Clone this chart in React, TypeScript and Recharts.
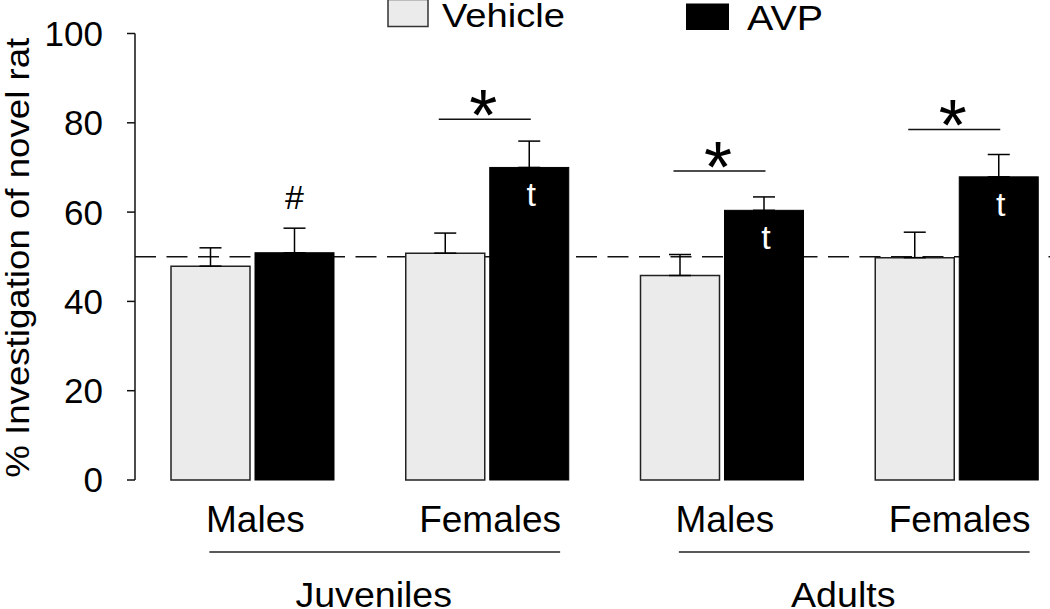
import React from "react";
import { BarChart, Bar, XAxis, YAxis, ErrorBar, ReferenceLine } from "recharts";

// groups along the x axis
const sexes = ["Males", "Females", "Males", "Females"];
const ages = ["Juveniles", "Juveniles", "Adults", "Adults"];

// % investigation of novel rat (mean, +SEM)
const vehicle = [47.9, 50.8, 45.8, 49.8];
const vehicleSem = [4.1, 4.5, 4.7, 5.7];
const avp = [50.9, 70.0, 60.4, 67.9];
const avpSem = [5.5, 5.9, 3.0, 5.0];

// annotations
const aboveMark = ["#", "", "", ""];
const insideMark = ["", "t", "t", "t"];
const sigLevel = [null, 80.8, 69.2, 78.5];

const yTicks = [0, 20, 40, 60, 80, 100];

const series = [
  { key: "vehicle", name: "Vehicle", fill: "#ebebeb" },
  { key: "avp", name: "AVP", fill: "#000000" },
];

const FONT = "'Liberation Sans', Arial, sans-serif";
const CHART_W = 1080;
const MARGIN = { top: 33.5, right: 6, left: 0, bottom: 0 };
const Y_W = 135;
const BAND = (CHART_W - MARGIN.left - MARGIN.right - Y_W) / sexes.length;

const rows = sexes.map((sex, i) => ({
  sex,
  age: ages[i],
  vehicle: vehicle[i],
  vehicleErr: [0, vehicleSem[i]],
  avp: avp[i],
  avpErr: [0, avpSem[i]],
}));

function SexTick({ x, y, payload, index }: any) {
  const age = ages[index];
  const first = index === 0 || ages[index - 1] !== age;
  return (
    <g fontFamily={FONT}>
      <text x={x + 3} y={y + 52} textAnchor="middle" fontSize={37} fill="#000">
        {payload.value}
      </text>
      {first && (
        <>
          <line x1={x - 43} x2={x + BAND + 73} y1={y + 72} y2={y + 72} stroke="#222" strokeWidth={1.5} />
          <text
            x={x + BAND / 2 + 4}
            y={y + 126.5}
            textAnchor="middle"
            fontSize={35}
            fill="#000"
            textLength={age.length * 17.4}
            lengthAdjust="spacingAndGlyphs"
          >
            {age}
          </text>
        </>
      )}
    </g>
  );
}

function YLabel({ viewBox }: any) {
  const cx = 28.5;
  const cy = (viewBox?.y ?? 33.5) + (viewBox?.height ?? 446.5) / 2 + 1;
  return (
    <text
      x={cx}
      y={cy}
      transform={`rotate(-90 ${cx} ${cy})`}
      textAnchor="middle"
      fontSize={33}
      fontFamily={FONT}
      fill="#000"
      textLength={440}
      lengthAdjust="spacingAndGlyphs"
    >
      % Investigation of novel rat
    </text>
  );
}

function AvpShape(p: any) {
  const { x, y, width, height, index, fill } = p;
  const k = height / avp[index];
  const base = y + height;
  const capY = base - (avp[index] + avpSem[index]) * k;
  const sig = sigLevel[index];
  const sigY = sig != null ? base - sig * k : 0;
  const x1 = x - 51;
  const x2 = x + 41;
  return (
    <g>
      <rect x={x} y={y} width={width} height={height} fill={fill} stroke="#000" strokeWidth={1} />
      {insideMark[index] && (
        <text x={x + width / 2 + 2} y={y + 39} textAnchor="middle" fontSize={34} fontFamily={FONT} fill="#fff">
          {insideMark[index]}
        </text>
      )}
      {aboveMark[index] && (
        <text x={x + width / 2} y={capY - 19} textAnchor="middle" fontSize={34} fontFamily={FONT} fill="#000">
          {aboveMark[index]}
        </text>
      )}
      {sig != null && (
        <>
          <line x1={x1} x2={x2} y1={sigY} y2={sigY} stroke="#111" strokeWidth={1.5} />
          <text x={(x1 + x2) / 2 - 1.5} y={sigY + 21} textAnchor="middle" fontSize={72} fontFamily={FONT} fill="#000">
            *
          </text>
        </>
      )}
    </g>
  );
}

function LegendOverlay() {
  return (
    <svg width={1050} height={45} style={{ position: "absolute", left: 0, top: 0, pointerEvents: "none" }}>
      <g fontFamily={FONT} fill="#000">
        <rect x={388} y={-0.5} width={40} height={27} fill={series[0].fill} stroke="#333" strokeWidth={1.5} />
        <text x={442} y={26.7} fontSize={33} textLength={123} lengthAdjust="spacingAndGlyphs">
          {series[0].name}
        </text>
        <rect x={686} y={3.5} width={43} height={26.5} fill={series[1].fill} />
        <text x={747} y={30} fontSize={35} textLength={76} lengthAdjust="spacingAndGlyphs">
          {series[1].name}
        </text>
      </g>
    </svg>
  );
}

export default function App() {
  return (
    <div
      style={{
        position: "fixed",
        left: 0,
        top: 0,
        width: 1050,
        height: 609,
        overflow: "hidden",
        background: "#fff",
      }}
    >
      <BarChart
        width={CHART_W}
        height={609}
        data={rows}
        margin={MARGIN}
        barSize={79}
        barGap={5}
      >
        <XAxis
          dataKey="sex"
          axisLine={false}
          tickLine={false}
          tickSize={0}
          tickMargin={0}
          interval={0}
          height={129}
          tick={(props: any) => <SexTick {...props} />}
        />
        <YAxis
          type="number"
          domain={[0, 100]}
          ticks={yTicks}
          width={Y_W}
          tickSize={8}
          tickMargin={24}
          axisLine={{ stroke: "#111", strokeWidth: 1.5 }}
          tickLine={{ stroke: "#111", strokeWidth: 1.5 }}
          tick={{ fontSize: 35, fill: "#000", fontFamily: FONT }}
          label={<YLabel />}
        />
        <ReferenceLine
          y={50}
          stroke="#111"
          strokeWidth={1.5}
          strokeDasharray="21 10.5"
          zIndex={100}
        />
        <Bar
          dataKey="vehicle"
          name={series[0].name}
          fill={series[0].fill}
          stroke="#222"
          strokeWidth={1.5}
          isAnimationActive={false}
        >
          <ErrorBar dataKey="vehicleErr" width={11} stroke="#000" strokeWidth={1.5} direction="y" />
        </Bar>
        <Bar
          dataKey="avp"
          name={series[1].name}
          fill={series[1].fill}
          shape={(p: any) => <AvpShape {...p} />}
          isAnimationActive={false}
        >
          <ErrorBar dataKey="avpErr" width={11} stroke="#000" strokeWidth={1.5} direction="y" />
        </Bar>
      </BarChart>
      <LegendOverlay />
    </div>
  );
}
